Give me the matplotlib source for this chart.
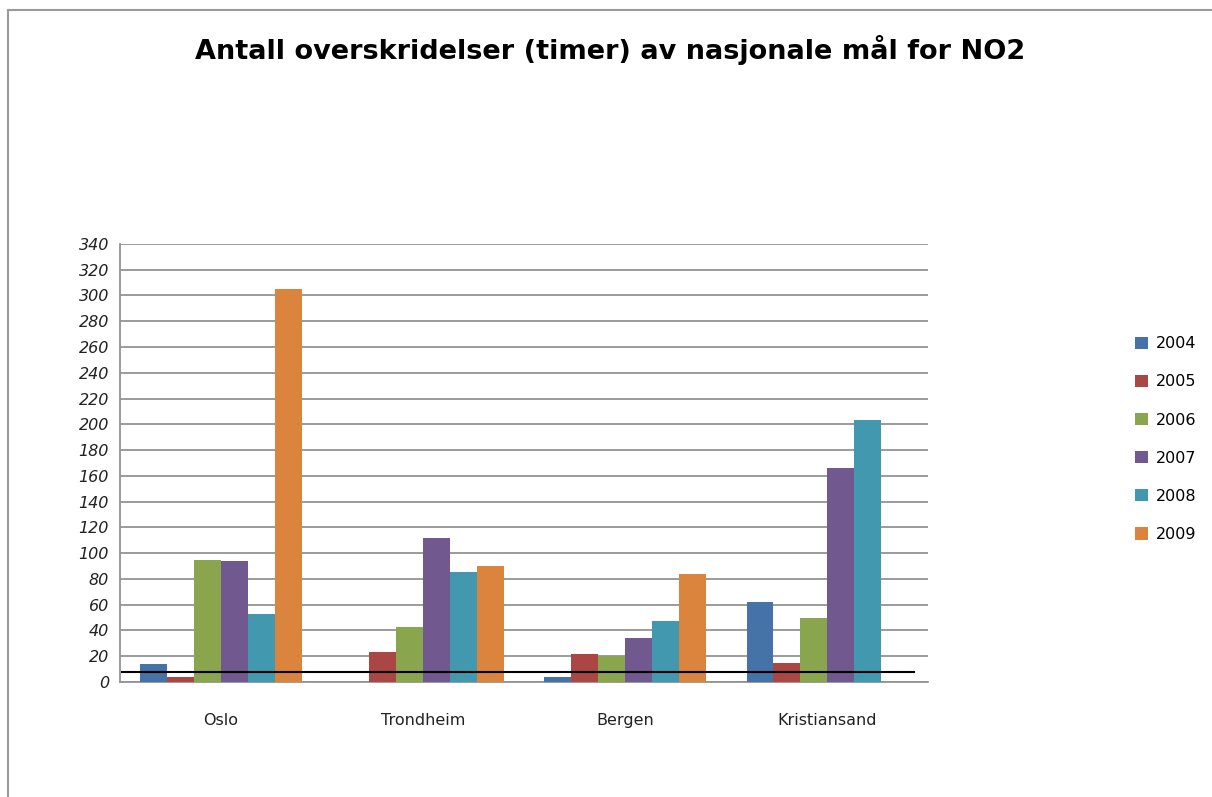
import numpy as np
import matplotlib.pyplot as plt
from matplotlib.patches import Patch
from matplotlib.lines import Line2D

# Data
cities = ['Oslo', 'Trondheim', 'Bergen', 'Kristiansand']
years = ['2004', '2005', '2006', '2007', '2008', '2009']
colors = ['#4572A7', '#AA4643', '#89A54E', '#71588F', '#4198AF', '#DB843D']

v2004 = [14, 0, 4, 62]
v2005 = [4, 23, 22, 15]
v2006 = [95, 43, 20, 50]
v2007 = [94, 112, 34, 166]
v2008 = [53, 85, 47, 203]
v2009 = [305, 90, 84, 0]
series = [v2004, v2005, v2006, v2007, v2008, v2009]

target = 8  # national target line
yticks = list(range(0, 341, 20))

fig = plt.figure(figsize=(12.12, 7.97), dpi=100)
ax = fig.add_axes([0.099, 0.1443, 0.667, 0.5496])

x = np.arange(len(cities))
width = 0.8 / len(years)
for i, (vals, c) in enumerate(zip(series, colors)):
    offs = (i - (len(years) - 1) / 2) * width
    ax.bar(x + offs, vals, width, color=c, zorder=3, linewidth=0)

# target line
ax.plot([-0.49, 3.43], [target, target], color='black', lw=1.5, zorder=4)

ax.set_xlim(-0.5, 3.5)
ax.set_ylim(0, 340)
ax.set_yticks(yticks)
ax.set_yticklabels([str(t) for t in yticks], fontstyle='italic', fontsize=11.5, color='#222222')
ax.set_xticks(x)
ax.set_xticklabels(cities, fontsize=11.5, color='#222222')
ax.tick_params(axis='both', length=0)
ax.tick_params(axis='x', pad=22)
ax.tick_params(axis='y', pad=8)
ax.grid(axis='y', color='#939393', lw=1.3, zorder=0)
for s in ['top', 'right']:
    ax.spines[s].set_visible(False)
ax.spines['left'].set_color('#939393')
ax.spines['bottom'].set_color('#939393')
ax.spines['left'].set_linewidth(1.3)
ax.spines['bottom'].set_linewidth(1.3)

handles = [Patch(facecolor=c, edgecolor='none') for c in colors]
fig.legend(handles, years, loc='center left', bbox_to_anchor=(0.925, 0.449),
           frameon=False, fontsize=11.5, labelspacing=1.45, handlelength=0.8,
           handleheight=0.8, handletextpad=0.5)

fig.text(0.503, 0.937, 'Antall overskridelser (timer) av nasjonale mål for NO2',
         ha='center', va='center', fontsize=19.5, fontweight='bold')

# outer frame
fig.add_artist(Line2D([8/1212, 1.0], [1 - 10/797, 1 - 10/797], color='#9a9a9a', lw=1.5))
fig.add_artist(Line2D([8/1212, 8/1212], [0, 1 - 10/797], color='#9a9a9a', lw=1.5))

plt.savefig('out.png', dpi=100)
